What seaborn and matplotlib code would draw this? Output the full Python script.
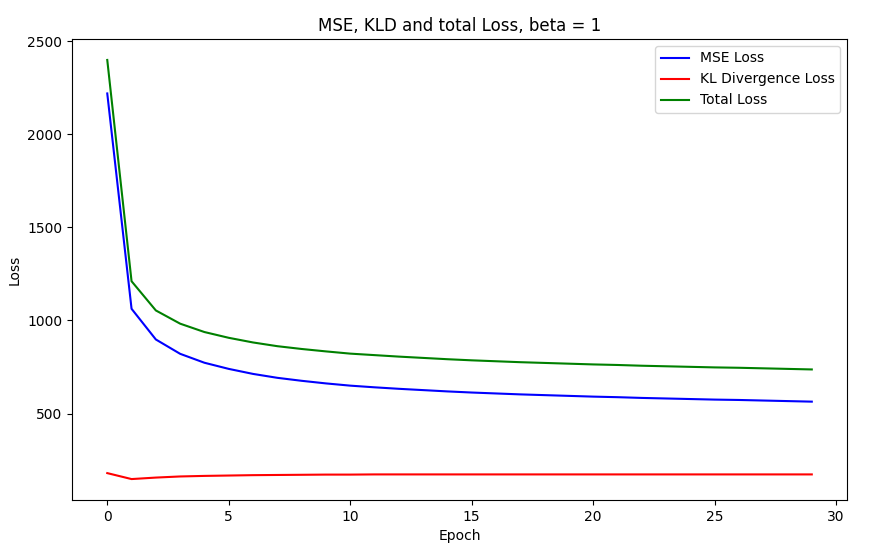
import numpy as np
import pandas as pd
import matplotlib
matplotlib.use("Agg")
import matplotlib.pyplot as plt
import seaborn as sns

# loss values per epoch
epochs = list(range(30))
mse_loss = [2220, 1063, 898, 821, 773, 740, 713, 692, 676, 662,
            650, 641, 633, 626, 619, 613, 608, 603, 599, 595,
            591, 588, 584, 581, 578, 575, 573, 570, 567, 564]
kld_loss = [180, 148, 156, 162, 165, 167, 169, 170, 171, 172,
            172, 173, 173, 173, 173, 173, 173, 173, 173, 173,
            173, 173, 173, 173, 173, 173, 173, 173, 173, 173]
total_loss = [m + k for m, k in zip(mse_loss, kld_loss)]

df = pd.DataFrame({"epoch": epochs, "mse": mse_loss,
                   "kld": kld_loss, "total": total_loss})

fig, ax = plt.subplots(figsize=(8.86, 5.53), dpi=100)
fig.subplots_adjust(left=0.0813, right=0.956, top=0.9295, bottom=0.0958)

sns.lineplot(data=df, x="epoch", y="mse", color="blue", label="MSE Loss", ax=ax)
sns.lineplot(data=df, x="epoch", y="kld", color="red", label="KL Divergence Loss", ax=ax)
sns.lineplot(data=df, x="epoch", y="total", color="green", label="Total Loss", ax=ax)

ax.set_xlabel("Epoch")
ax.set_ylabel("Loss")
ax.set_title("MSE, KLD and total Loss, beta = 1")
ax.legend(loc="upper right")

fig.savefig("out.png", dpi=100)
